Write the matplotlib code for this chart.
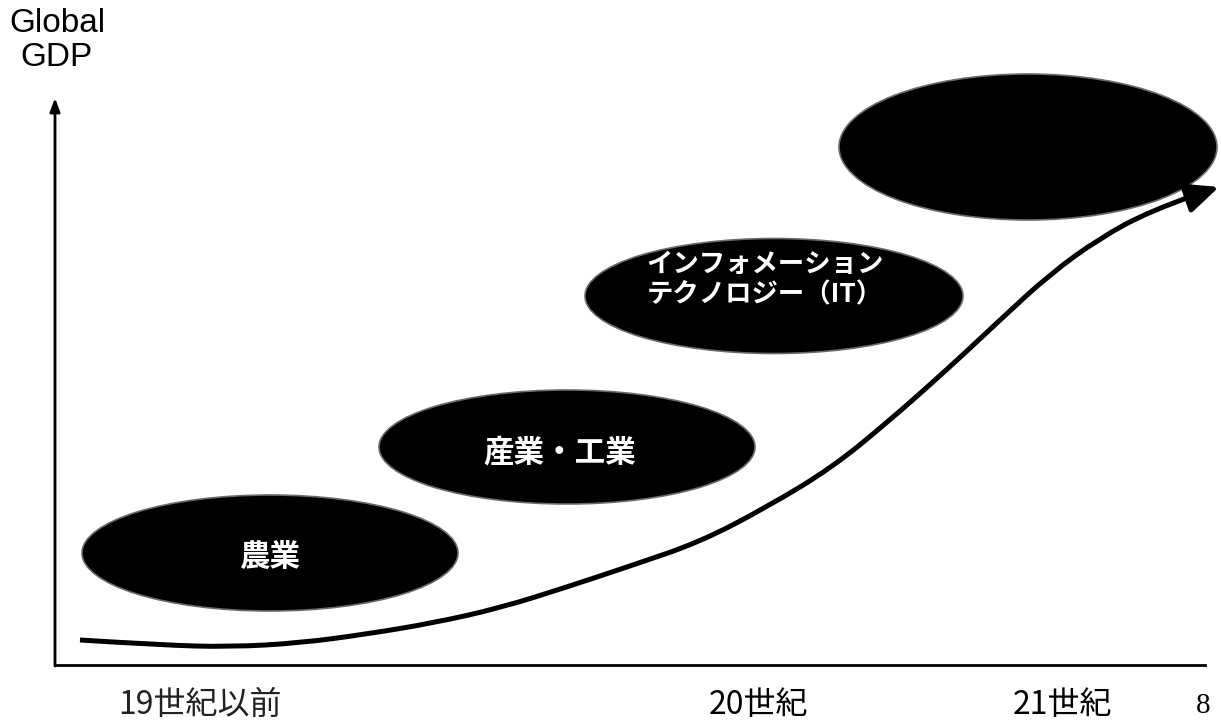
import matplotlib.pyplot as plt
from matplotlib.patches import Ellipse, PathPatch
from matplotlib.path import Path

plt.rcParams['font.family'] = ['Noto Sans CJK JP', 'DejaVu Sans']

# growth curve of global GDP (canvas pixel units, y grows downward)
curve_x = [80, 160, 230, 300, 367, 433, 500, 567, 633, 700, 767, 833,
           890, 933, 967, 1000, 1050, 1100, 1150, 1195]
curve_y = [640, 645, 647, 643, 634, 623, 608, 587, 565, 542, 507, 467,
           420, 382, 351, 320, 274, 238, 211, 195]

# stages of the economy, from oldest to newest
stages = ['農業', '産業・工業', 'インフォメーション\nテクノロジー（IT）', '']
stage_center = [(270, 553), (567, 447), (774, 296), (1028, 147)]
stage_size = [(376, 116), (376, 114), (378, 115), (378, 146)]
stage_text_pos = [(270, 557), (560, 452), (765, 280), (1028, 147)]
stage_font = [22, 22, 19, 20]

eras = ['19世紀以前', '20世紀', '21世紀']
era_x = [200, 758, 1062]

fig = plt.figure(figsize=(12.21, 7.22), dpi=100)
ax = fig.add_axes([0, 0, 1, 1])
ax.set_xlim(0, 1221)
ax.set_ylim(722, 0)
ax.axis('off')

# axes drawn by hand
ax.plot([55, 1205], [665, 665], color='black', lw=2)
ax.annotate('', xy=(55, 98), xytext=(55, 666),
            arrowprops=dict(arrowstyle='-|>,head_length=0.8,head_width=0.3',
                            color='black', lw=2, shrinkA=0, shrinkB=0))

for (cx, cy), (w, h), (tx, ty), label, fs in zip(stage_center, stage_size,
                                                  stage_text_pos, stages, stage_font):
    ax.add_patch(Ellipse((cx, cy), w, h, facecolor='black',
                         edgecolor='#6a6a6a', lw=1.2, zorder=2))
    if label:
        ax.text(tx, ty, label, color='white', fontsize=fs, fontweight='bold',
                ha='center', va='center', linespacing=1.15, zorder=3)

# smooth the curve: quadratic segments through midpoints, read points as controls
pts = list(zip(curve_x, curve_y))
verts = [pts[0]]
codes = [Path.MOVETO]
for i in range(1, len(pts) - 1):
    mid = ((pts[i][0] + pts[i + 1][0]) / 2, (pts[i][1] + pts[i + 1][1]) / 2)
    if i == len(pts) - 2:
        mid = pts[-1]
    verts += [pts[i], mid]
    codes += [Path.CURVE3, Path.CURVE3]
ax.add_patch(PathPatch(Path(verts, codes), facecolor='none', edgecolor='black',
                       lw=3.6, capstyle='butt', zorder=4))
ax.annotate('', xy=(1219, 187), xytext=(curve_x[-1] - 2, curve_y[-1] + 1),
            arrowprops=dict(arrowstyle='-|>,head_length=2.0,head_width=0.9',
                            color='black', lw=3.6, shrinkA=0, shrinkB=0), zorder=4)

ax.text(57, 23, 'Global', fontsize=24, family='Liberation Sans',
        ha='center', va='center')
ax.text(57, 58, 'GDP', fontsize=24, family='Liberation Sans',
        ha='center', va='center')

for label, x in zip(eras, era_x):
    ax.text(x, 705, label, fontsize=23, ha='center', va='center',
            color='#222222' if label.endswith('以前') else 'black')

ax.text(1203, 706, '8', fontsize=21, family='Liberation Serif',
        ha='center', va='center')

fig.savefig('out.png', dpi=100, facecolor='white')
